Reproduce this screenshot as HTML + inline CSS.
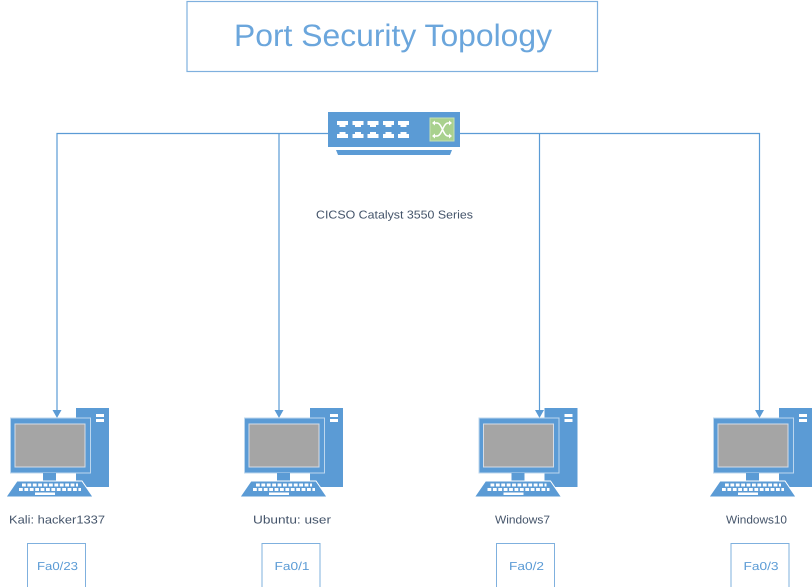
<!DOCTYPE html>
<html><head><meta charset="utf-8"><style>
html,body{margin:0;padding:0;background:#fff;width:812px;height:587px;overflow:hidden}
svg{display:block;filter:blur(0.35px)}
text{font-family:"Liberation Sans",sans-serif;text-rendering:geometricPrecision}
</style></head><body>
<svg width="812" height="587" viewBox="0 0 812 587" xmlns="http://www.w3.org/2000/svg">
<defs>
<g id="pc">
<rect x="76" y="408" width="33" height="79" fill="#5b9bd5"/>
<rect x="96" y="414" width="8" height="3" fill="#fff"/>
<rect x="96" y="419" width="8" height="3" fill="#fff"/>
<rect x="10.500" y="418" width="80" height="55" fill="#5b9bd5" stroke="#bdd7ee" stroke-width="1"/>
<rect x="15" y="424" width="70" height="43" fill="#a5a5a5" stroke="#d6dce5" stroke-width="1"/>
<rect x="43" y="473" width="13" height="8" fill="#5b9bd5"/>
<path d="M17 481H82L93 497H6Z" fill="#5b9bd5" stroke="#fff" stroke-width="1"/>
<path d="M22 485H78M19 489.500H81" stroke="#fff" stroke-width="3" stroke-dasharray="3.800 1.600" fill="none"/>
<rect x="35" y="492.500" width="20" height="2.500" fill="#fff"/>
</g>
</defs>
<rect x="187" y="1.500" width="410.500" height="70" fill="#fff" stroke="#7fb0de" stroke-width="1.200"/>
<text x="234" y="46" font-size="31" fill="#6ba6dc" textLength="318" lengthAdjust="spacingAndGlyphs">Port Security Topology</text>

<g fill="none" stroke="#5b9bd5" stroke-width="1.200">
<path d="M328 133.500H57V411"/>
<path d="M279 133V411"/>
<path d="M460 133.500H759.500V411"/>
<path d="M539.500 133V411"/>
</g>
<g fill="#5b9bd5">
<path d="M52.500 410H61.500L57 418Z"/>
<path d="M274.500 410H283.500L279 418Z"/>
<path d="M535 410H544L539.500 418Z"/>
<path d="M755 410H764L759.500 418Z"/>
</g>

<rect x="328" y="112" width="132" height="35" fill="#5b9bd5"/>
<path d="M336 150H452L450 155H338Z" fill="#5b9bd5"/>
<g fill="#fff">
<path d="M337 121H348V125H345.500V127H339.500V125H337Z"/>
<path d="M352.500 121H363.500V125H361V127H355V125H352.500Z"/>
<path d="M367.500 121H378.500V125H376V127H370V125H367.500Z"/>
<path d="M383 121H394V125H391.500V127H385.500V125H383Z"/>
<path d="M398 121H409V125H406.500V127H400.500V125H398Z"/>
<path d="M337 138H348V134H345.500V132H339.500V134H337Z"/>
<path d="M352.500 138H363.500V134H361V132H355V134H352.500Z"/>
<path d="M367.500 138H378.500V134H376V132H370V134H367.500Z"/>
<path d="M383 138H394V134H391.500V132H385.500V134H383Z"/>
<path d="M398 138H409V134H406.500V132H400.500V134H398Z"/>
</g>
<rect x="430" y="118" width="24" height="23" fill="#a9d18e" stroke="#c5e0b4" stroke-width="1"/>
<path d="M433 123H437C442 123 443 136 448 136H451M433 136H437C442 136 443 123 448 123H451" fill="none" stroke="#fff" stroke-width="1.500"/>
<path d="M449 120.500 452 123 449 125.500ZM449 133.500 452 136 449 138.500ZM435 120.500 432 123 435 125.500ZM435 133.500 432 136 435 138.500Z" fill="#fff"/>

<text x="316" y="218.500" font-size="11.500" fill="#44546a" textLength="157" lengthAdjust="spacingAndGlyphs">CICSO Catalyst 3550 Series</text>

<use href="#pc"/>
<use href="#pc" x="234"/>
<use href="#pc" x="468.500"/>
<use href="#pc" x="703"/>

<g font-size="11.500" fill="#44546a">
<text x="9" y="523.500" textLength="96" lengthAdjust="spacingAndGlyphs">Kali: hacker1337</text>
<text x="253" y="523.500" textLength="78" lengthAdjust="spacingAndGlyphs">Ubuntu: user</text>
<text x="495" y="523.500" textLength="55" lengthAdjust="spacingAndGlyphs">Windows7</text>
<text x="726" y="523.500" textLength="61" lengthAdjust="spacingAndGlyphs">Windows10</text>
</g>
<g fill="#fff" stroke="#7fb0de" stroke-width="1">
<rect x="27.500" y="543.500" width="58" height="45"/>
<rect x="262" y="543.500" width="58" height="45"/>
<rect x="496.500" y="543.500" width="58" height="45"/>
<rect x="731" y="543.500" width="58" height="45"/>
</g>
<g font-size="11.500" fill="#5b9bd5">
<text x="37" y="570" textLength="41" lengthAdjust="spacingAndGlyphs">Fa0/23</text>
<text x="274.500" y="570" textLength="35" lengthAdjust="spacingAndGlyphs">Fa0/1</text>
<text x="509" y="570" textLength="35" lengthAdjust="spacingAndGlyphs">Fa0/2</text>
<text x="743.500" y="570" textLength="35" lengthAdjust="spacingAndGlyphs">Fa0/3</text>
</g>
</svg>
</body></html>
